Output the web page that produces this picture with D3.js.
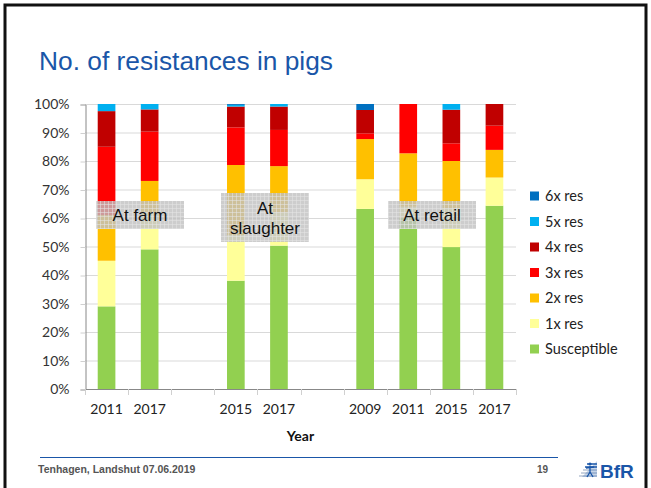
<!DOCTYPE html>
<html><head><meta charset="utf-8">
<script src="https://cdn.jsdelivr.net/npm/d3@7"></script>
<style>
html,body{margin:0;padding:0;background:#fff;}
svg{display:block;}
</style></head>
<body>
<svg id="c" width="651" height="488"></svg>
<script>
// ---- data ----
const categories = ["2011","2017","","2015","2017","","2009","2011","2015","2017"];
const seriesNames = ["Susceptible","1x res","2x res","3x res","4x res","5x res","6x res"];
const susceptible = [29, 49, 0, 38, 50.3, 0, 63.2, 60, 49.8, 64.3];
const res1x       = [16, 13, 0, 16, 11.7, 0, 10.4, 4, 13.7, 9.9];
const res2x       = [16, 11, 0, 24.6, 16.2, 0, 14.1, 18.7, 16.5, 9.7];
const res3x       = [24, 17.3, 0, 13.2, 12.7, 0, 2, 17.3, 6.2, 8.5];
const res4x       = [12.5, 7.8, 0, 7.3, 8.2, 0, 8.2, 0, 11.8, 7.6];
const res5x       = [2.5, 1.9, 0, 0.6, 0.9, 0, 0, 0, 2, 0];
const res6x       = [0, 0, 0, 0.3, 0, 0, 2.1, 0, 0, 0];
const yTicks = [0,10,20,30,40,50,60,70,80,90,100];
const groupLabels = ["At farm", "At|slaughter", "At retail"];
const title = "No. of resistances in pigs";
const xTitle = "Year";
const footer = "Tenhagen, Landshut 07.06.2019";
const pageNo = "19";

const colors = ["#92d050","#ffff99","#ffc000","#ff0000","#c00000","#00b0f0","#0070c0"];
const seriesVals = [susceptible,res1x,res2x,res3x,res4x,res5x,res6x];

const svg = d3.select("#c");
const font = "Lato, 'Open Sans', sans-serif";

// slide frame
svg.append("path").attr("d","M5,488 V5 H646 V488").attr("fill","none")
  .attr("stroke","#111").attr("stroke-width",3);

// title
svg.append("text").attr("x",39).attr("y",70).text(title)
  .attr("font-family","'Liberation Sans', Arial, sans-serif").attr("font-size",25)
  .attr("textLength",294).attr("lengthAdjust","spacingAndGlyphs")
  .attr("fill","#1a56a8");

// scales
const keys = categories.map((c,i)=>"k"+i);
const x = d3.scaleBand().domain(keys).range([85,516]).paddingInner(0).paddingOuter(0);
const y = d3.scaleLinear().domain([0,100]).range([389,104]);
const bw = x.bandwidth()*0.41;

// gridlines
svg.append("g").selectAll("line").data(yTicks.slice(1)).join("line")
  .attr("x1",85).attr("x2",516).attr("y1",d=>y(d)+0.5).attr("y2",d=>y(d)+0.5)
  .attr("stroke","#d9d9d9").attr("stroke-width",1);

// y axis
const yAxis = d3.axisLeft(y).tickValues(yTicks).tickFormat(d=>d+"%").tickSize(5).tickPadding(11);
const gy = svg.append("g").attr("transform","translate(85.5,0.5)").call(yAxis);
gy.select(".domain").attr("stroke","#888");
gy.selectAll(".tick line").attr("stroke","#d0d0d0");
gy.selectAll("text").attr("font-family",font).attr("font-size",14).attr("fill","#333");

// stacked bars
const rows = categories.map((c,i)=>{const r={key:keys[i]}; seriesNames.forEach((s,j)=>r[s]=seriesVals[j][i]); return r;});
const stack = d3.stack().keys(seriesNames)(rows);
svg.append("g").selectAll("g").data(stack).join("g").attr("fill",(d,i)=>colors[i])
  .selectAll("rect").data(d=>d.filter(p=>p[1]-p[0]>0)).join("rect")
  .attr("x",d=>x(d.data.key)+(x.bandwidth()-bw)/2)
  .attr("width",bw)
  .attr("y",d=>y(d[1]))
  .attr("height",d=>y(d[0])-y(d[1]));

// x axis
svg.append("line").attr("x1",85).attr("x2",516).attr("y1",389.5).attr("y2",389.5).attr("stroke","#888");
const bounds = keys.map(k=>x(k)).concat([x.range()[1]]);
svg.append("g").selectAll("line").data(bounds).join("line")
  .attr("x1",d=>Math.round(d)+0.5).attr("x2",d=>Math.round(d)+0.5).attr("y1",389).attr("y2",395)
  .attr("stroke","#d0d0d0");
const xAxis = d3.axisBottom(x).tickSize(0).tickPadding(0).tickFormat((k,i)=>categories[i]);
const gx = svg.append("g").attr("transform","translate(0,404)").call(xAxis);
gx.select(".domain").remove();
gx.selectAll("text").attr("font-family",font).attr("font-size",14).attr("fill","#222").attr("dy","0.71em");

svg.append("text").attr("x",300.5).attr("y",441).attr("text-anchor","middle").text(xTitle)
  .attr("font-family",font).attr("font-size",14).attr("font-weight","bold").attr("fill","#111");

// group label boxes
const defs = svg.append("defs");
const pat = defs.append("pattern").attr("id","hatch").attr("width",4).attr("height",4).attr("patternUnits","userSpaceOnUse");
pat.append("rect").attr("width",4).attr("height",4).attr("fill","rgba(192,192,192,0.8)");
pat.append("path").attr("d","M0,0.5H4M0.5,0V4").attr("stroke","rgba(230,230,230,0.55)").attr("stroke-width",1);

const boxes = [
  {x0:96,y0:201,x1:184,y1:229},
  {x0:221,y0:193,x1:309,y1:242},
  {x0:388,y0:201,x1:476,y1:229}
];
groupLabels.forEach((lab,i)=>{
  const b = boxes[i];
  svg.append("rect").attr("x",b.x0).attr("y",b.y0).attr("width",b.x1-b.x0).attr("height",b.y1-b.y0)
    .attr("fill","url(#hatch)");
  const lines = lab.split("|");
  const cy = (b.y0+b.y1)/2;
  lines.forEach((ln,j)=>{
    svg.append("text").attr("x",(b.x0+b.x1)/2).attr("y",cy+(j-(lines.length-1)/2)*20+6)
      .attr("text-anchor","middle").text(ln)
      .attr("font-family","'Liberation Sans', Arial, sans-serif").attr("font-size",17).attr("fill","#111");
  });
});

// legend
const legendOrder = seriesNames.map((s,i)=>i).reverse();
const lg = svg.append("g");
legendOrder.forEach((si,j)=>{
  const yy = 196 + j*25.5;
  lg.append("rect").attr("x",530).attr("y",yy-4.5).attr("width",9).attr("height",9).attr("fill",colors[si]);
  lg.append("text").attr("x",545).attr("y",yy+5).text(seriesNames[si])
    .attr("font-family",font).attr("font-size",14.5).attr("fill","#222");
});

// footer
svg.append("line").attr("x1",40).attr("x2",558).attr("y1",457.5).attr("y2",457.5).attr("stroke","#1a56a8").attr("stroke-width",1);
svg.append("text").attr("x",38).attr("y",473).text(footer)
  .attr("font-family","'Liberation Sans', Arial, sans-serif").attr("font-size",10.5).attr("font-weight","bold").attr("fill","#555");
svg.append("text").attr("x",537).attr("y",473).text(pageNo)
  .attr("font-family","'Liberation Sans', Arial, sans-serif").attr("font-size",10).attr("font-weight","bold").attr("fill","#555");

// BfR logo
const logo = svg.append("g");
[0,3,6,9,12].forEach((d,i)=>{
  logo.append("line").attr("x1",579+ (4-i)*2).attr("x2",597).attr("y1",464+d).attr("y2",464+d)
    .attr("stroke",i<2?"#1a56a8":"#b8c4d6").attr("stroke-width",1.5);
});
logo.append("path").attr("d","M582,477 L597,461 L597,477 Z").attr("fill","#1a56a8").attr("opacity",0.25);
logo.append("circle").attr("cx",590).attr("cy",464).attr("r",1.6).attr("fill","#1a56a8");
logo.append("path").attr("d","M586,468 L594,467 M590,466 L590,472 L587,477 M590,472 L593,477")
  .attr("stroke","#1a56a8").attr("stroke-width",1.3).attr("fill","none");
logo.append("text").attr("x",600).attr("y",478).text("BfR")
  .attr("font-family","'Liberation Sans', Arial, sans-serif").attr("font-size",19).attr("font-weight","bold")
  .attr("fill","#1a56a8");
</script>
</body></html>
